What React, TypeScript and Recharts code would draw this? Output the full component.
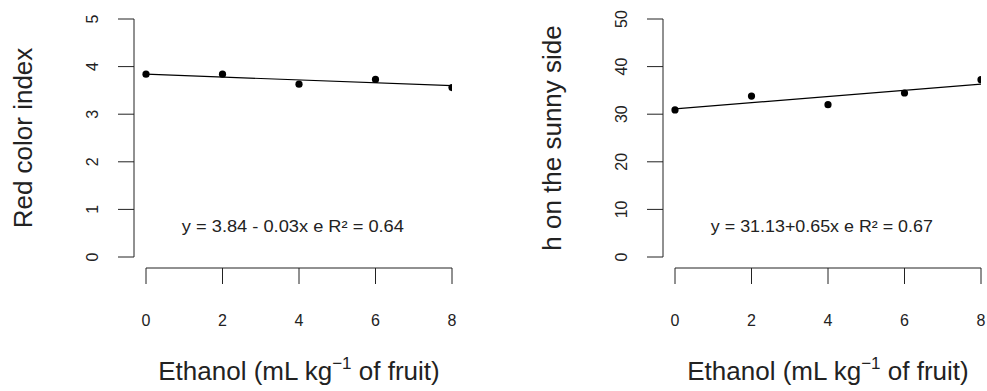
import React from "react";
import {
  ComposedChart,
  ReferenceDot,
  ReferenceLine,
  Scatter,
  XAxis,
  YAxis,
} from "recharts";

// ethanol doses (mL kg-1 of fruit)
const ethanol = [0, 2, 4, 6, 8];
const xTicks = [0, 2, 4, 6, 8];

// left panel: red colour index
const redIndex = [3.84, 3.84, 3.63, 3.73, 3.56];
const redFit = [3.84, 3.6];
const redTicks = [0, 1, 2, 3, 4, 5];
const redEquation = "y = 3.84 - 0.03x e R\u00b2 = 0.64";

// right panel: hue angle on the sunny side
const hueSunny = [30.9, 33.8, 32.0, 34.45, 37.25];
const hueFit = [31.13, 36.33];
const hueTicks = [0, 10, 20, 30, 40, 50];
const hueEquation = "y = 31.13+0.65x e R\u00b2 = 0.67";

const FONT = "'Liberation Sans', Arial, sans-serif";
const INK = "#222";

const W = 458;
const H = 391;
const TOP = 19;
const AXIS_W = 134; // y axis area
const AXIS_H = 123; // x axis area
const GAP = 12; // R style detached axes
const PLOT_W = W - 6 - AXIS_W;
const PLOT_H = H - TOP - AXIS_H;

const YTick = (props: any) => {
  const { x, y, payload } = props;
  return (
    <text
      x={x}
      y={y}
      transform={`rotate(-90 ${x} ${y})`}
      textAnchor="middle"
      fontSize={16}
      fill={INK}
      fontFamily={FONT}
    >
      {payload.value}
    </text>
  );
};

interface PanelProps {
  values: number[];
  fit: number[];
  ticks: number[];
  title: string;
  equation: string;
  left: number;
}

const Panel = ({ values, fit, ticks, title, equation, left }: PanelProps) => {
  const xMax = xTicks[xTicks.length - 1];
  const yMax = ticks[ticks.length - 1];
  const xMin = -(GAP / (PLOT_W - GAP)) * xMax;
  const yMin = -(11 / (PLOT_H - 11)) * yMax;
  const points = ethanol.map((x, i) => ({ x, y: values[i] }));
  const fitLine = [
    { x: ethanol[0], y: fit[0] },
    { x: ethanol[ethanol.length - 1], y: fit[1] },
  ];

  return (
    <div style={{ position: "absolute", left, top: 0 }}>
      <ComposedChart
        width={W}
        height={H}
        margin={{ top: TOP, right: 6, left: 0, bottom: 0 }}
        style={{ fontFamily: FONT }}
      >
        <XAxis
          type="number"
          dataKey="x"
          domain={[xMin, xMax]}
          allowDataOverflow
          ticks={xTicks}
          height={AXIS_H}
          axisLine={false}
          tickSize={16}
          tickMargin={31}
          tickLine={{ stroke: INK }}
          tick={{ fontSize: 16, fill: INK }}
          label={{
            content: (p: any) => {
              const vb = p.viewBox;
              const cx = vb.x + GAP + (vb.width - GAP) / 2;
              return (
                <text
                  x={cx}
                  y={vb.y + 112}
                  textAnchor="middle"
                  fontSize={26}
                  fill={INK}
                  fontFamily={FONT}
                >
                  Ethanol (mL kg
                  <tspan dy={-11} fontSize={17}>
                    {"\u22121"}
                  </tspan>
                  <tspan dy={11}> of fruit)</tspan>
                </text>
              );
            },
          }}
        />
        <YAxis
          type="number"
          dataKey="y"
          domain={[yMin, yMax]}
          allowDataOverflow
          ticks={ticks}
          width={AXIS_W}
          axisLine={false}
          tickSize={16}
          tickMargin={20}
          tickLine={{ stroke: INK }}
          tick={<YTick />}
          label={{
            content: (p: any) => {
              const vb = p.viewBox;
              const cy = vb.y + (vb.height - 11) / 2;
              return (
                <text
                  x={32}
                  y={cy}
                  transform={`rotate(-90 32 ${cy})`}
                  textAnchor="middle"
                  fontSize={26}
                  fill={INK}
                  fontFamily={FONT}
                >
                  {title}
                </text>
              );
            },
          }}
        />
        <ReferenceLine
          segment={[
            { x: xMin, y: 0 },
            { x: xMin, y: yMax },
          ]}
          stroke={INK}
          ifOverflow="visible"
        />
        <ReferenceLine
          segment={[
            { x: 0, y: yMin },
            { x: xMax, y: yMin },
          ]}
          stroke={INK}
          ifOverflow="visible"
        />
        <Scatter
          data={fitLine}
          line={{ stroke: "#000", strokeWidth: 1.2 }}
          shape={() => <g />}
          isAnimationActive={false}
        />
        <Scatter
          data={points}
          fill="#000"
          shape={(p: any) => <circle cx={p.cx} cy={p.cy} r={3.6} fill="#000" />}
          isAnimationActive={false}
        />
        <ReferenceDot
          x={xMax * 0.48}
          y={yMax * 0.106}
          ifOverflow="visible"
          shape={(p: any) => (
            <text
              x={p.cx}
              y={p.cy}
              textAnchor="middle"
              fontSize={16}
              fill={INK}
              fontFamily={FONT}
              textLength={222}
              lengthAdjust="spacingAndGlyphs"
            >
              {equation}
            </text>
          )}
        />
      </ComposedChart>
    </div>
  );
}

export default function App() {
  return (
    <div
      style={{
        position: "absolute",
        left: 0,
        top: 0,
        width: 987,
        height: 391,
        background: "#fff",
      }}
    >
      <Panel
        values={redIndex}
        fit={redFit}
        ticks={redTicks}
        title="Red color index"
        equation={redEquation}
        left={0}
      />
      <Panel
        values={hueSunny}
        fit={hueFit}
        ticks={hueTicks}
        title="h on the sunny side"
        equation={hueEquation}
        left={529}
      />
    </div>
  );
}
